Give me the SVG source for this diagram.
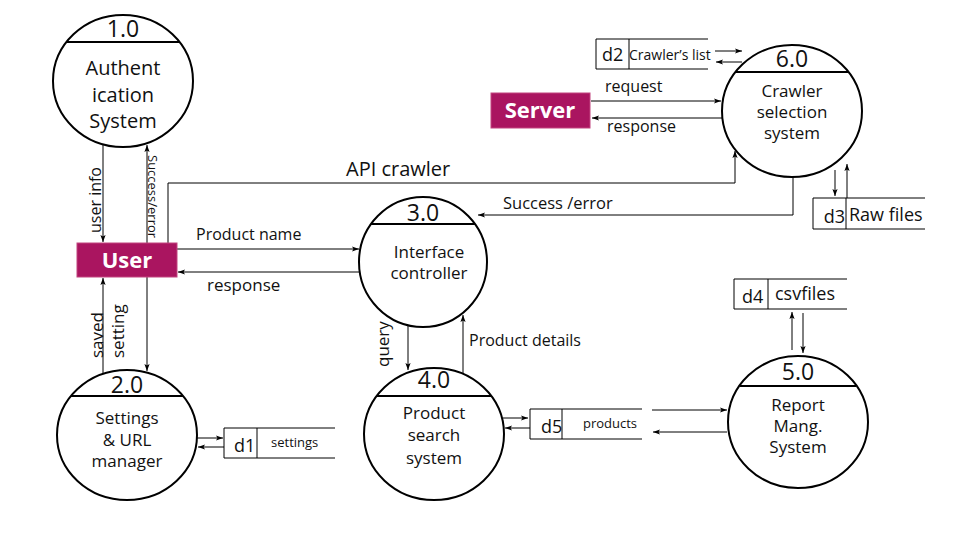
<svg xmlns="http://www.w3.org/2000/svg" width="960" height="540" viewBox="0 0 960 540">
<defs>
<marker id="ah" markerWidth="8" markerHeight="8" refX="7" refY="3" orient="auto" markerUnits="userSpaceOnUse">
<path d="M0,0.4 L7,3 L0,5.6 L1.5,3 Z" fill="#000"/>
</marker>
</defs>
<style>
text{font-family:"Open Sans","Noto Sans","DejaVu Sans",sans-serif;fill:#111}
.proc{fill:#fff;stroke:#000;stroke-width:2}
.hdr{stroke:#000;stroke-width:2}
.num{font-size:23px;text-anchor:middle}
.lbl{font-size:17px;text-anchor:middle}
.ent{fill:#AA1560;stroke:#C2457F;stroke-width:1}
.entt{font-size:22px;font-weight:bold;fill:#fff;text-anchor:middle}
.store{fill:none;stroke:#000;stroke-width:1}
.flow{fill:none;stroke:#000;stroke-width:1;marker-end:url(#ah)}
.fl{font-size:16px}
</style>
<rect width="960" height="540" fill="#fff"/>

<g id="connectors">
<line class="flow" x1="103" y1="145" x2="103" y2="242"/>
<line class="flow" x1="147" y1="243" x2="147" y2="145"/>
<polyline class="flow" points="168,243 168,183 735,183 735,151"/>
<line class="flow" x1="177" y1="249" x2="359" y2="249"/>
<line class="flow" x1="360" y1="272" x2="178" y2="272"/>
<polyline class="flow" points="793,177 793,215 478,215"/>
<line class="flow" x1="591" y1="101" x2="721" y2="101"/>
<line class="flow" x1="722" y1="118" x2="592" y2="118"/>
<line class="flow" x1="715" y1="51" x2="742" y2="51"/>
<line class="flow" x1="742" y1="62" x2="716" y2="62"/>
<line class="flow" x1="835" y1="170" x2="835" y2="196"/>
<line class="flow" x1="847" y1="198" x2="847" y2="164"/>
<line class="flow" x1="103" y1="373" x2="103" y2="278"/>
<line class="flow" x1="147" y1="277" x2="147" y2="371"/>
<line class="flow" x1="197" y1="438" x2="223" y2="438"/>
<line class="flow" x1="224" y1="447" x2="198" y2="447"/>
<line class="flow" x1="408" y1="324" x2="408" y2="370"/>
<line class="flow" x1="463" y1="375" x2="463" y2="315"/>
<line class="flow" x1="503" y1="418" x2="528" y2="418"/>
<line class="flow" x1="530" y1="428" x2="505" y2="428"/>
<line class="flow" x1="652" y1="410" x2="727" y2="410"/>
<line class="flow" x1="727" y1="432" x2="653" y2="432"/>
<line class="flow" x1="792" y1="350" x2="792" y2="312"/>
<line class="flow" x1="803" y1="313" x2="803" y2="353"/>

<text class="fl" transform="translate(101,200) rotate(-90)" text-anchor="middle">user info</text>
<text transform="translate(148,155) rotate(90)" font-size="13">Success/error</text>
<text font-size="20" x="346" y="176">API crawler</text>
<text class="fl" x="196" y="240">Product name</text>
<text x="207" y="291" font-size="17">response</text>
<text x="503" y="209" font-size="16.5">Success /error</text>
<text class="fl" x="605" y="92">request</text>
<text class="fl" x="607" y="132">response</text>
<text transform="translate(103,358) rotate(-90)" font-size="17">saved</text>
<text transform="translate(124,358) rotate(-90)" font-size="17">setting</text>
<text transform="translate(389,367) rotate(-90)" font-size="17">query</text>
<text class="fl" x="469" y="346">Product details</text>
</g>

<g id="p1">
<ellipse class="proc" cx="123" cy="81" rx="70" ry="66"/>
<line class="hdr" x1="67" y1="42" x2="179" y2="42"/>
<text class="num" x="123" y="37">1.0</text>
<text x="123" y="75" font-size="20" text-anchor="middle">Authent</text>
<text x="123" y="102" font-size="20" text-anchor="middle">ication</text>
<text x="123" y="128" font-size="20" text-anchor="middle">System</text>
</g>

<g id="user">
<rect class="ent" x="77" y="243" width="100" height="34"/>
<text class="entt" x="127" y="268">User</text>
</g>

<g id="server">
<rect class="ent" x="491" y="93" width="99" height="35"/>
<text class="entt" x="540" y="118">Server</text>
</g>

<g id="p6">
<ellipse class="proc" cx="792" cy="111" rx="70" ry="66"/>
<line class="hdr" x1="736" y1="72" x2="848" y2="72"/>
<text class="num" x="792" y="67">6.0</text>
<text class="lbl" x="792" y="97">Crawler</text>
<text class="lbl" x="792" y="118">selection</text>
<text class="lbl" x="792" y="139">system</text>
</g>

<g id="p3">
<ellipse class="proc" cx="423" cy="262" rx="64" ry="65"/>
<line class="hdr" x1="371" y1="224" x2="475" y2="224"/>
<text class="num" x="423" y="221">3.0</text>
<text class="lbl" x="429" y="258">Interface</text>
<text class="lbl" x="429" y="279">controller</text>
</g>

<g id="p2">
<ellipse class="proc" cx="127" cy="435" rx="70" ry="65"/>
<line class="hdr" x1="71" y1="396" x2="183" y2="396"/>
<text class="num" x="127" y="393">2.0</text>
<text class="lbl" x="127" y="424" font-size="16">Settings</text>
<text class="lbl" x="127" y="446" font-size="16">&amp; URL</text>
<text class="lbl" x="127" y="467" font-size="16">manager</text>
</g>

<g id="p4">
<ellipse class="proc" cx="434" cy="434" rx="70" ry="66"/>
<line class="hdr" x1="377" y1="396" x2="491" y2="396"/>
<text class="num" x="434" y="388">4.0</text>
<text class="lbl" x="434" y="419" font-size="18">Product</text>
<text class="lbl" x="434" y="441" font-size="18">search</text>
<text class="lbl" x="434" y="464" font-size="18">system</text>
</g>

<g id="p5">
<ellipse class="proc" cx="798" cy="422" rx="70" ry="66"/>
<line class="hdr" x1="740" y1="386" x2="856" y2="386"/>
<text class="num" x="798" y="380">5.0</text>
<text class="lbl" x="798" y="411" font-size="16">Report</text>
<text class="lbl" x="798" y="432" font-size="16">Mang.</text>
<text class="lbl" x="798" y="453" font-size="16">System</text>
</g>

<g id="d2">
<path class="store" d="M708,39 H596 V69 H708 M629,39 V69"/>
<text x="602" y="61" font-size="18">d2</text>
<text x="629" y="60" font-size="14">Crawler’s list</text>
</g>

<g id="d3">
<path class="store" d="M925,198 H813 V229 H925 M846,198 V229"/>
<text x="845" y="223" font-size="18" text-anchor="end">d3</text>
<text x="849" y="221" font-size="18">Raw files</text>
</g>

<g id="d4">
<path class="store" d="M847,279 H734 V309 H847 M768,279 V309"/>
<text x="742" y="303" font-size="18">d4</text>
<text x="775" y="300" font-size="18">csvfiles</text>
</g>

<g id="d1">
<path class="store" d="M335,428 H224 V458 H335 M257,428 V458"/>
<text x="234" y="452" font-size="18">d1</text>
<text x="271" y="447" font-size="13">settings</text>
</g>

<g id="d5">
<path class="store" d="M642,409 H530 V439 H642 M562,409 V439"/>
<text x="541" y="433" font-size="18">d5</text>
<text x="583" y="428" font-size="13">products</text>
</g>
</svg>
